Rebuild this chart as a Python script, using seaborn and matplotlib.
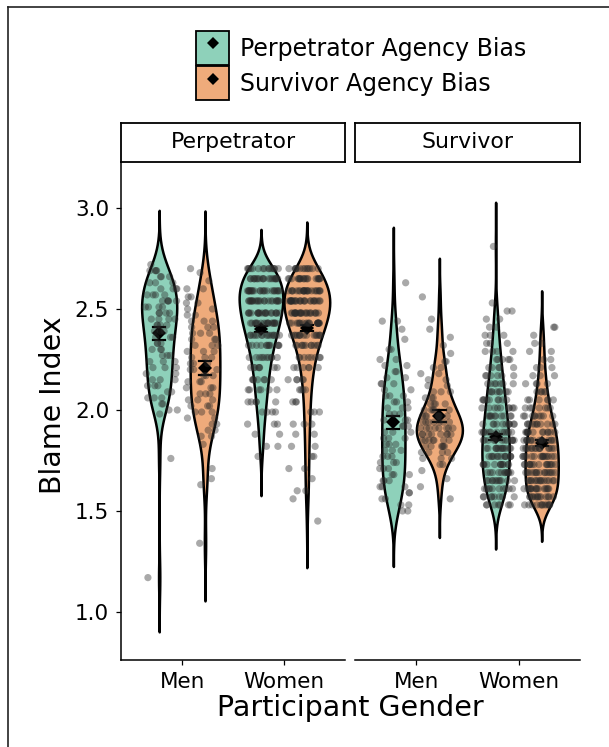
import numpy as np
import pandas as pd
import matplotlib
matplotlib.use("Agg")
import matplotlib.pyplot as plt
import seaborn as sns
from matplotlib.patches import Patch
from matplotlib.lines import Line2D

# ---------------- data ----------------
facets = ["Perpetrator", "Survivor"]
genders = ["Men", "Women"]
bias_levels = ["Perpetrator Agency Bias", "Survivor Agency Bias"]
palette = ["#8ED1BA", "#EFAB7B"]
point_color = "#2a2a2a"

# (blame value, number of participants) read from the jittered points
perp_men_pab = [(1.17, 1), (1.76, 1), (1.98, 1), (2.00, 2), (2.03, 2), (2.06, 3), (2.09, 2),
                (2.12, 3), (2.15, 3), (2.18, 2), (2.21, 3), (2.24, 3), (2.27, 3), (2.30, 3),
                (2.33, 3), (2.36, 3), (2.39, 3), (2.42, 4), (2.45, 4), (2.48, 4), (2.51, 4),
                (2.54, 5), (2.57, 4), (2.60, 4), (2.63, 3), (2.66, 3), (2.69, 4), (2.72, 1)]
perp_men_sab = [(1.34, 1), (1.63, 1), (1.66, 1), (1.71, 1), (1.83, 1), (1.87, 2), (1.90, 2),
                (1.93, 2), (1.96, 2), (1.99, 3), (2.02, 3), (2.05, 3), (2.08, 3), (2.11, 3),
                (2.14, 3), (2.17, 3), (2.20, 3), (2.23, 3), (2.26, 3), (2.29, 3), (2.32, 3),
                (2.35, 3), (2.38, 3), (2.41, 3), (2.44, 3), (2.47, 2), (2.50, 2), (2.53, 2),
                (2.56, 2), (2.60, 2), (2.64, 1), (2.68, 1), (2.70, 1)]
perp_women_pab = [(1.77, 1), (1.82, 2), (1.88, 2), (1.93, 3), (1.99, 4), (2.04, 5), (2.10, 6),
                  (2.15, 7), (2.21, 8), (2.26, 10), (2.32, 12), (2.37, 15), (2.43, 18),
                  (2.48, 20), (2.54, 22), (2.59, 22), (2.65, 19), (2.70, 15)]
perp_women_sab = [(1.45, 1), (1.56, 1), (1.60, 2), (1.66, 1), (1.71, 2), (1.77, 2), (1.82, 2),
                  (1.88, 2), (1.93, 3), (1.99, 3), (2.04, 3), (2.10, 4), (2.15, 5), (2.21, 6),
                  (2.26, 8), (2.32, 11), (2.37, 15), (2.43, 19), (2.48, 23), (2.54, 25),
                  (2.59, 23), (2.65, 19), (2.70, 13)]
surv_men_pab = [(1.50, 2), (1.53, 2), (1.56, 2), (1.59, 2), (1.62, 3), (1.65, 3), (1.68, 3),
                (1.71, 3), (1.74, 3), (1.77, 3), (1.80, 3), (1.83, 3), (1.86, 3), (1.89, 3),
                (1.92, 3), (1.95, 3), (1.98, 3), (2.01, 3), (2.04, 3), (2.07, 3), (2.10, 2),
                (2.13, 3), (2.16, 2), (2.19, 2), (2.22, 2), (2.25, 2), (2.30, 2), (2.35, 1),
                (2.40, 1), (2.44, 2), (2.63, 1)]
surv_men_sab = [(1.56, 1), (1.62, 1), (1.66, 1), (1.70, 1), (1.73, 2), (1.76, 3), (1.79, 4),
                (1.82, 6), (1.85, 7), (1.88, 8), (1.91, 8), (1.94, 7), (1.97, 6), (2.00, 5),
                (2.03, 4), (2.06, 3), (2.09, 3), (2.12, 2), (2.15, 2), (2.18, 2), (2.21, 2),
                (2.24, 2), (2.28, 1), (2.32, 1), (2.36, 1), (2.40, 1), (2.45, 1), (2.56, 1)]
surv_women_pab = [(1.53, 7), (1.57, 8), (1.61, 10), (1.65, 11), (1.69, 12), (1.73, 12),
                  (1.77, 13), (1.81, 13), (1.85, 12), (1.89, 12), (1.93, 11), (1.97, 10),
                  (2.01, 9), (2.05, 9), (2.09, 8), (2.13, 7), (2.17, 6), (2.21, 5), (2.25, 5),
                  (2.29, 4), (2.33, 3), (2.37, 3), (2.41, 2), (2.45, 2), (2.49, 2), (2.53, 1),
                  (2.81, 1)]
surv_women_sab = [(1.53, 12), (1.57, 13), (1.61, 15), (1.65, 15), (1.69, 15), (1.73, 15),
                  (1.77, 15), (1.81, 15), (1.85, 14), (1.89, 13), (1.93, 11), (1.97, 9),
                  (2.01, 7), (2.05, 6), (2.09, 5), (2.13, 4), (2.17, 3), (2.21, 3), (2.25, 2),
                  (2.29, 2), (2.33, 2), (2.37, 1), (2.41, 2)]

# means and standard errors (order: Men-PAB, Men-SAB, Women-PAB, Women-SAB)
mean_perp = [2.381, 2.208, 2.400, 2.405]
se_perp = [0.032, 0.035, 0.014, 0.014]
mean_surv = [1.940, 1.970, 1.866, 1.836]
se_surv = [0.032, 0.030, 0.015, 0.015]

yticks = [1.0, 1.5, 2.0, 2.5, 3.0]
ytick_labels = ["1.0", "1.5", "2.0", "2.5", "3.0"]

groups = {
    ("Perpetrator", "Men", bias_levels[0]): perp_men_pab,
    ("Perpetrator", "Men", bias_levels[1]): perp_men_sab,
    ("Perpetrator", "Women", bias_levels[0]): perp_women_pab,
    ("Perpetrator", "Women", bias_levels[1]): perp_women_sab,
    ("Survivor", "Men", bias_levels[0]): surv_men_pab,
    ("Survivor", "Men", bias_levels[1]): surv_men_sab,
    ("Survivor", "Women", bias_levels[0]): surv_women_pab,
    ("Survivor", "Women", bias_levels[1]): surv_women_sab,
}
rows = []
for (fac, g, b), pairs in groups.items():
    for v, c in pairs:
        rows += [(fac, g, b, v)] * c
df = pd.DataFrame(rows, columns=["facet", "gender", "bias", "blame"])

summ_rows = []
for fac, means, ses in [("Perpetrator", mean_perp, se_perp), ("Survivor", mean_surv, se_surv)]:
    i = 0
    for g in genders:
        for b in bias_levels:
            m, s = means[i], ses[i]
            for v in (m - s, m, m + s):
                summ_rows.append((fac, g, b, v))
            i += 1
summ = pd.DataFrame(summ_rows, columns=["facet", "gender", "bias", "blame"])

# ---------------- figure ----------------
W, H = 609, 747
fig = plt.figure(figsize=(W / 100, H / 100), dpi=100)
plt.rcParams["font.family"] = ["DejaVu Sans"]

def fx(px):
    return px / W

def fy(py):
    return 1 - py / H

panel_x = [(121, 345), (355, 580)]
top_px, bot_px = 162, 660
np.random.seed(7)

for k, fac in enumerate(facets):
    x0, x1 = panel_x[k]
    ax = fig.add_axes([fx(x0), fy(bot_px), fx(x1) - fx(x0), fy(top_px) - fy(bot_px)])
    d = df[df.facet == fac]
    sns.violinplot(data=d, x="gender", y="blame", hue="bias", order=genders,
                   hue_order=bias_levels, palette=palette, inner=None, cut=3,
                   bw_adjust=0.85, width=0.9, density_norm="area", common_norm=True,
                   linewidth=1.8, linecolor="black", saturation=1, gap=0, legend=False, ax=ax)
    sns.stripplot(data=d, x="gender", y="blame", hue="bias", order=genders,
                  hue_order=bias_levels, palette=[point_color, point_color], dodge=True,
                  jitter=0.32, alpha=0.4, size=5.2, linewidth=0, legend=False, ax=ax)
    s = summ[summ.facet == fac]
    sns.pointplot(data=s, x="gender", y="blame", hue="bias", order=genders,
                  hue_order=bias_levels, palette=["black", "black"], dodge=0.45,
                  estimator="mean", errorbar=("pi", 100), markers="D", linestyle="none",
                  markersize=7.5, markeredgewidth=0, capsize=0.12,
                  err_kws={"linewidth": 1.6}, legend=False, ax=ax)
    ax.set_xlim(-0.6, 1.6)
    ax.set_ylim(0.762, 3.228)
    ax.set_xlabel("")
    ax.set_ylabel("")
    for sp in ["top", "right"]:
        ax.spines[sp].set_visible(False)
    ax.spines["bottom"].set_linewidth(1.1)
    ax.spines["left"].set_linewidth(1.1)
    ax.tick_params(axis="x", length=3.5, width=0.9, pad=5.5, labelsize=15.5, colors="black")
    if k == 0:
        ax.set_yticks(yticks)
        ax.set_yticklabels(ytick_labels)
        ax.tick_params(axis="y", length=3.5, width=0.9, pad=5, labelsize=15.5, colors="black")
    else:
        ax.spines["left"].set_visible(False)
        ax.set_yticks([])
    ax.set_facecolor("none")

    # facet strip
    sx = fig.add_axes([fx(x0), fy(top_px), fx(x1) - fx(x0), fy(123) - fy(top_px)])
    sx.set_xticks([])
    sx.set_yticks([])
    for sp in sx.spines.values():
        sp.set_linewidth(1.3)
        sp.set_color("black")
    sx.text(0.5, 0.5, fac, ha="center", va="center", fontsize=15.8, transform=sx.transAxes)

fig.text(fx(53), fy(405), "Blame Index", rotation=90, ha="center", va="center", fontsize=20.5)
fig.text(fx(350), fy(708), "Participant Gender", ha="center", va="center", fontsize=20.5)

handles = [(Patch(facecolor=c, edgecolor="black", linewidth=1.3),
            Line2D([], [], marker="D", color="black", linestyle="none", markersize=6.5,
                   markeredgewidth=0)) for c in palette]
fig.legend(handles, bias_levels, loc="upper left", bbox_to_anchor=(fx(196), fy(31)),
           frameon=False, fontsize=17, handlelength=1.4, handleheight=1.84,
           handletextpad=0.45, labelspacing=0.05, borderpad=0, borderaxespad=0)

# outer frame (top and left edge)
fig.add_artist(Line2D([fx(8), 1], [fy(7), fy(7)], transform=fig.transFigure,
                      color="#222222", linewidth=1.2))
fig.add_artist(Line2D([fx(8), fx(8)], [fy(7), 0], transform=fig.transFigure,
                      color="#222222", linewidth=1.2))

fig.savefig("out.png", dpi=100)
